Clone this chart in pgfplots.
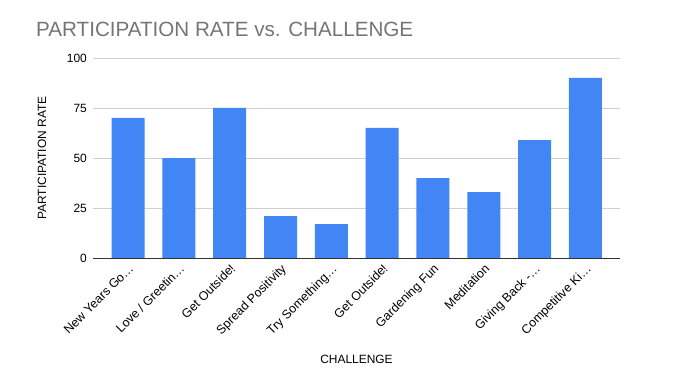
\documentclass[border=0pt]{standalone}
\usepackage{pgfplots}
\pgfplotsset{compat=1.18}
\usepackage{fontspec}
\setmainfont{Liberation Sans}
\definecolor{barblue}{HTML}{4285F4}
\definecolor{titlegray}{HTML}{757575}
\definecolor{gridgray}{HTML}{D0D0D0}
\definecolor{axisdark}{HTML}{333333}
\begin{document}
\begin{tikzpicture}[x=1bp,y=1bp]
\useasboundingbox (0,0) rectangle (676,378);
\node[anchor=base west, text=titlegray, font=\fontsize{20.7}{25}\selectfont, inner sep=0pt] at (36,342) {PARTICIPATION RATE vs. CHALLENGE};
\begin{axis}[
  at={(93bp,120bp)}, anchor=south west,
  scale only axis, width=527bp, height=200bp,
  xmin=-0.69, xmax=9.68, ymin=0, ymax=100,
  ytick={0,25,50,75,100},
  xtick={0,...,9},
  xticklabels={New Years Go…,Love / Greetin…,Get Outside!,Spread Positivity,Try Something…,Get Outside!,Gardening Fun,Meditation,Giving Back -…,Competitive Ki…},
  xticklabel style={rotate=45, anchor=north east, font=\fontsize{12.5}{14}\selectfont, text=black, inner sep=0pt, xshift=-3.5bp, yshift=-3.5bp},
  yticklabel style={font=\fontsize{12}{14}\selectfont, text=black, inner sep=0pt, xshift=-6bp},
  /pgf/number format/assume math mode=true,
  major tick length=0pt,
  axis line style={draw=none},
  axis x line*=bottom,
  axis y line*=left,
  ymajorgrids, grid style={gridgray, line width=0.8bp},
  ybar, bar width=33bp,
  xlabel={CHALLENGE}, ylabel={PARTICIPATION RATE},
  xlabel style={at={(rel axis cs:0.5,0)}, anchor=base, yshift=-105bp, font=\fontsize{12}{14}\selectfont},
  ylabel style={at={(rel axis cs:0,0.5)}, anchor=center, yshift=51bp, font=\fontsize{12}{14}\selectfont},
  clip=false,
]
\addplot[fill=barblue, draw=none] coordinates {(0,70) (1,50) (2,75) (3,21) (4,17) (5,65) (6,40) (7,33) (8,59) (9,90)};
\draw[axisdark, line width=1bp] (rel axis cs:0,0) -- (rel axis cs:1,0);
\end{axis}
\end{tikzpicture}
\end{document}
